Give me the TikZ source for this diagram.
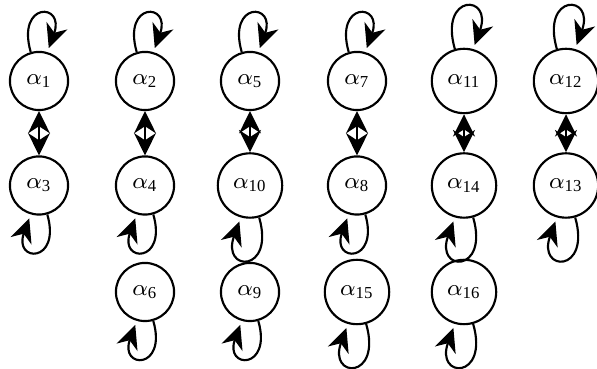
\documentclass[tikz,border=0pt]{standalone}
\usepackage{fontspec}
\setmainfont{Liberation Serif}
\usetikzlibrary{arrows.meta}
\tikzset{
  st/.style={circle,draw,line width=0.75pt,inner sep=0pt,minimum size=20.4pt,font=\fontsize{8.4}{10}\selectfont},
  stw/.style={st,minimum size=22.6pt},
  arr/.style={line width=0.75pt,-{Stealth[length=8.3pt,width=7.7pt,inset=2.6pt]}},
  dbl/.style={line width=0.75pt,{Stealth[length=7.8pt,width=7.7pt,inset=2.5pt]}-{Stealth[length=7.8pt,width=7.7pt,inset=2.5pt]}},
}
\newcommand{\al}[1]{$\alpha$\textsubscript{#1}}
\newcommand{\toploop}[2]{\draw[arr,shorten >=1.5pt] (#1.106) .. controls +(106:#2) and +(70:#2) .. (#1.74);}
\newcommand{\botloop}[2]{\draw[arr,shorten >=1.5pt] (#1.-74) .. controls +(-74:#2) and +(-110:#2) .. (#1.-106);}
\begin{document}
\begin{tikzpicture}[x=0.351pt,y=0.351pt]
\useasboundingbox (0,0) rectangle (597,369);
\node[st] (a1) at (39,288) {\al{1}};
\node[st] (a3) at (39,183.5) {\al{3}};
\node[st] (a2) at (145,288) {\al{2}};
\node[st] (a4) at (145,183.5) {\al{4}};
\node[st] (a6) at (145,77) {\al{6}};
\node[st] (a5) at (250,288) {\al{5}};
\node[stw] (a10) at (250,183.5) {\al{10}};
\node[st] (a9) at (250,77) {\al{9}};
\node[st] (a7) at (357,288) {\al{7}};
\node[st] (a8) at (357,183.5) {\al{8}};
\node[stw] (a15) at (357,77) {\al{15}};
\node[stw] (a11) at (464,288) {\al{11}};
\node[stw] (a14) at (464,183.5) {\al{14}};
\node[stw] (a16) at (464,77) {\al{16}};
\node[stw] (a12) at (566,288) {\al{12}};
\node[stw] (a13) at (566,183.5) {\al{13}};
\foreach \a/\b in {a1/a3,a2/a4,a5/a10,a7/a8,a11/a14,a12/a13}
  \draw[dbl] (\a) -- (\b);
\foreach \n in {a1,a2,a5,a7} {\toploop{\n}{18.5pt}}
\foreach \n in {a11,a12} {\toploop{\n}{20.5pt}}
\foreach \n in {a3,a4,a6,a9,a8} {\botloop{\n}{18pt}}
\foreach \n in {a10,a15,a14,a16,a13} {\botloop{\n}{20.5pt}}
\end{tikzpicture}
\end{document}
